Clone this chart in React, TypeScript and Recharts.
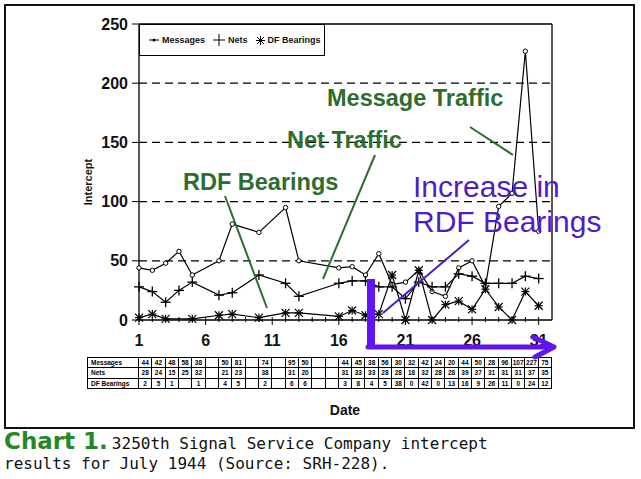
import { LineChart, Line, XAxis, YAxis, ReferenceLine } from 'recharts';

// July 1944, one entry per day; null = no report that day
const days = [1, 2, 3, 4, 5, 6, 7, 8, 9, 10, 11, 12, 13, 14, 15, 16, 17, 18, 19, 20, 21, 22, 23, 24, 25, 26, 27, 28, 29, 30, 31];
const messages = [44, 42, 48, 58, 38, null, 50, 81, null, 74, null, 95, 50, null, null, 44, 45, 38, 56, 30, 32, 42, 24, 20, 44, 50, 28, 96, 107, 227, 75];
const nets = [28, 24, 15, 25, 32, null, 21, 23, null, 38, null, 31, 20, null, null, 31, 33, 33, 28, 28, 18, 32, 28, 28, 39, 37, 31, 31, 31, 37, 35];
const dfBearings = [2, 5, 1, null, 1, null, 4, 5, null, 2, null, 6, 6, null, null, 3, 8, 4, 5, 38, 0, 42, 0, 13, 16, 9, 26, 11, 0, 24, 12];

const xTickLabels = [1, 6, 11, 16, 21, 26, 31];
const yTicks = [0, 50, 100, 150, 200, 250];
const gridValues = [50, 100, 150, 200];

const tableRows = [
  { name: 'Messages', values: messages },
  { name: 'Nets', values: nets },
  { name: 'DF Bearings', values: dfBearings },
];

const data = days.map((d, i) => ({ day: d, messages: messages[i], nets: nets[i], df: dfBearings[i] }));

const SANS = '"Liberation Sans", Arial, sans-serif';
const GREEN = '#2d6e30';
const PURPLE = '#4f1cc9';
const ARROW = '#6014f2';

function CircleDot(p: any) {
  if (p.cy == null || p.value == null) return <g key={`m${p.index}`} />;
  return <circle key={`m${p.index}`} cx={p.cx} cy={p.cy} r={2.2} fill="#fff" stroke="#000" strokeWidth={1} />;
}

function PlusDot(p: any) {
  if (p.cy == null || p.value == null) return <g key={`n${p.index}`} />;
  const { cx, cy } = p;
  return (
    <g key={`n${p.index}`} stroke="#000" strokeWidth={1.3}>
      <line x1={cx - 5} x2={cx + 5} y1={cy} y2={cy} />
      <line x1={cx} x2={cx} y1={cy - 5} y2={cy + 5} />
    </g>
  );
}

function StarDot(p: any) {
  if (p.cy == null || p.value == null) return <g key={`d${p.index}`} />;
  const { cx, cy } = p;
  const s = 4;
  return (
    <g key={`d${p.index}`} stroke="#000" strokeWidth={1.2}>
      <line x1={cx - s} x2={cx + s} y1={cy} y2={cy} />
      <line x1={cx} x2={cx} y1={cy - s} y2={cy + s} />
      <line x1={cx - s} x2={cx + s} y1={cy - s} y2={cy + s} />
      <line x1={cx - s} x2={cx + s} y1={cy + s} y2={cy - s} />
    </g>
  );
}

function DayTick({ x, y, payload }: any) {
  const major = xTickLabels.includes(payload.value);
  return (
    <g>
      <line x1={x} x2={x} y1={y - 3} y2={y + (major ? 5 : 2)} stroke="#000" strokeWidth={1} />
      {major && (
        <text x={x} y={y + 26} textAnchor="middle" fontSize={16} fontWeight="bold" fontFamily={SANS} fill="#111">
          {payload.value}
        </text>
      )}
    </g>
  );
}

function LegendBox() {
  return (
    <div style={{
      position: 'absolute', left: 139, top: 24, width: 186, height: 32, boxSizing: 'border-box',
      border: '1px solid #000', background: '#fff', display: 'flex', alignItems: 'center',
      fontFamily: SANS, fontSize: 9, fontWeight: 'bold', color: '#111', paddingLeft: 9, gap: 3,
    }}>
      <svg width={10} height={8}><line x1={0} x2={10} y1={4} y2={4} stroke="#000" /><circle cx={5} cy={4} r={1.5} fill="#000" /></svg>
      <span style={{ marginRight: 5 }}>Messages</span>
      <svg width={12} height={12}><line x1={0} x2={12} y1={6} y2={6} stroke="#000" /><line x1={6} x2={6} y1={0} y2={12} stroke="#000" /></svg>
      <span style={{ marginRight: 5 }}>Nets</span>
      <svg width={9} height={9} stroke="#000">
        <line x1={0} x2={9} y1={4.5} y2={4.5} /><line x1={4.5} x2={4.5} y1={0} y2={9} />
        <line x1={1} x2={8} y1={1} y2={8} /><line x1={1} x2={8} y1={8} y2={1} />
      </svg>
      <span>DF Bearings</span>
    </div>
  );
}

function DataTable() {
  return (
    <div style={{
      position: 'absolute', left: 87, top: 357, width: 465, height: 32, boxSizing: 'border-box',
      background: '#000', padding: 1, display: 'grid', gap: 1,
      gridTemplateColumns: '50px repeat(31, 1fr)', gridTemplateRows: 'repeat(3, 1fr)',
      fontFamily: SANS, fontSize: 6.5, fontWeight: 'bold', color: '#000',
    }}>
      {tableRows.map((row) => [
        <div key={row.name} style={{ background: '#fff', paddingLeft: 3, lineHeight: '9px' }}>{row.name}</div>,
        ...row.values.map((v, i) => (
          <div key={`${row.name}${i}`} style={{ background: '#fff', textAlign: 'center', lineHeight: '9px' }}>
            {v == null ? '' : v}
          </div>
        )),
      ])}
    </div>
  );
}

function Annotations() {
  return (
    <svg width={641} height={479} style={{ position: 'absolute', left: 0, top: 0, pointerEvents: 'none' }}>
      <rect x={5} y={5} width={629} height={423} fill="none" stroke="#111" strokeWidth={2} />
      <text x={92} y={182} transform="rotate(-90 92 182)" textAnchor="middle" fontFamily={SANS} fontSize={11} fontWeight="bold" fill="#111">
        Intercept
      </text>
      <text x={345} y={415} textAnchor="middle" fontFamily={SANS} fontSize={14} fontWeight="bold" fill="#111">Date</text>

      <g fontFamily={SANS} fontSize={23.5} fontWeight="bold" fill={GREEN}>
        <text x={327} y={106}>Message Traffic</text>
        <text x={287} y={148}>Net Traffic</text>
        <text x={183} y={190}>RDF Bearings</text>
      </g>
      <g stroke={GREEN} strokeWidth={2}>
        <line x1={470} y1={127} x2={513} y2={155} />
        <line x1={375} y1={155} x2={323} y2={279} />
        <line x1={225} y1={196} x2={267} y2={308} />
      </g>

      <g fontFamily={SANS} fontSize={30} fill={PURPLE}>
        <text x={413} y={197}>Increase in</text>
        <text x={413} y={232}>RDF Bearings</text>
      </g>
      <line x1={469} y1={240} x2={383} y2={313} stroke={PURPLE} strokeWidth={2} />

      <g stroke={ARROW} fill="none" strokeLinecap="round" strokeLinejoin="round">
        <line x1={371} y1={279} x2={371} y2={349} strokeWidth={8} strokeLinecap="butt" />
        <line x1={368} y1={347} x2={551} y2={347} strokeWidth={5} />
        <polyline points="533,337 554,347 535,357" strokeWidth={5} />
      </g>
    </svg>
  );
}

export default function App() {
  return (
    <div style={{ position: 'absolute', left: 0, top: 0, width: 641, height: 479, background: '#fff', overflow: 'hidden' }}>
      <LineChart width={641} height={479} data={data} margin={{ top: 24, right: 89, left: 89, bottom: 129 }}>
        {gridValues.map((v) => (
          <ReferenceLine key={v} y={v} stroke="#000" strokeWidth={1.3} strokeDasharray="8 5" />
        ))}
        <ReferenceLine y={250} stroke="#000" strokeWidth={1.3} />
        <ReferenceLine x={32} stroke="#000" strokeWidth={1.3} />
        <XAxis
          dataKey="day" type="number" domain={[1, 32]} ticks={days} interval={0}
          height={30} tickSize={0} tickMargin={0} tickLine={false}
          axisLine={{ stroke: '#000', strokeWidth: 1.3 }} tick={<DayTick />}
        />
        <YAxis
          type="number" domain={[0, 250]} ticks={yTicks} width={50} tickSize={7} tickMargin={4}
          axisLine={{ stroke: '#000', strokeWidth: 1.3 }} tickLine={{ stroke: '#000' }}
          tick={{ fontSize: 16, fontWeight: 'bold', fontFamily: SANS, fill: '#111' }}
        />
        <Line type="linear" dataKey="messages" stroke="#000" strokeWidth={1.2} connectNulls dot={CircleDot} isAnimationActive={false} />
        <Line type="linear" dataKey="nets" stroke="#000" strokeWidth={1.2} connectNulls dot={PlusDot} isAnimationActive={false} />
        <Line type="linear" dataKey="df" stroke="#000" strokeWidth={1.2} connectNulls dot={StarDot} isAnimationActive={false} />
      </LineChart>
      <LegendBox />
      <DataTable />
      <Annotations />
      <div style={{ position: 'absolute', left: 4, top: 431, fontSize: 16, lineHeight: '20px', fontFamily: '"DejaVu Sans Mono", "Liberation Mono", monospace', color: '#111', whiteSpace: 'pre' }}>
        <span style={{ fontFamily: '"DejaVu Sans", sans-serif', fontWeight: 'bold', fontSize: 23, color: '#22882a', marginRight: 4 }}>Chart 1.</span>
        {'3250th Signal Service Company intercept'}
        <br />
        results for July 1944 (Source: SRH-228).
      </div>
    </div>
  );
}
